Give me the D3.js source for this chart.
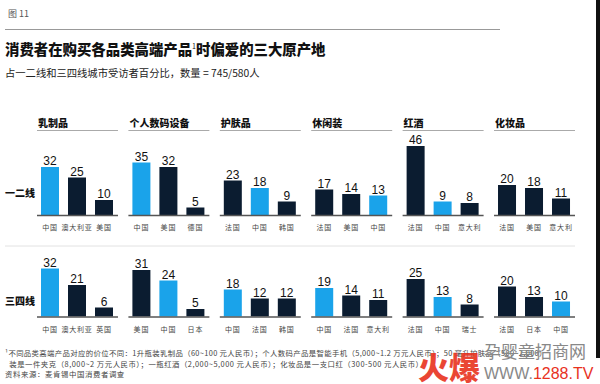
<!DOCTYPE html>
<html>
<head>
  <meta charset="utf-8">
  <title>图 11</title>
  <script src="https://d3js.org/d3.v7.min.js"></script>
  <style>
    body { margin: 0; background: #fff; }
    text { font-family: "Noto Sans CJK SC", sans-serif; }
  </style>
</head>
<body>
  <script>
    var width = 600;
    var height = 384;

    // 数据
    var categories = ["乳制品", "个人数码设备", "护肤品", "休闲装", "红酒", "化妆品"];
    var tierLabels = ["一二线", "三四线"];
    var tier1Countries = [["中国", "澳大利亚", "美国"], ["中国", "美国", "德国"], ["法国", "中国", "韩国"],
                          ["法国", "美国", "中国"], ["法国", "中国", "意大利"], ["法国", "美国", "意大利"]];
    var tier1Values = [[32, 25, 10], [35, 32, 5], [23, 18, 9], [17, 14, 13], [46, 9, 8], [20, 18, 11]];
    var tier2Countries = [["中国", "澳大利亚", "英国"], ["美国", "中国", "日本"], ["中国", "法国", "韩国"],
                          ["中国", "法国", "意大利"], ["法国", "中国", "瑞士"], ["法国", "日本", "中国"]];
    var tier2Values = [[32, 21, 6], [31, 24, 5], [18, 12, 12], [19, 14, 11], [25, 13, 8], [20, 13, 10]];
    var footnotes = [
      "¹不同品类高端产品对应的价位不同：1升瓶装乳制品（60~100 元人民币）；个人数码产品是智能手机（5,000~1.2 万元人民币）；50 毫升护肤品（500~2,000）",
      "  装是一件夹克（8,000~2 万元人民币）；一瓶红酒（2,000~5,000 元人民币）；化妆品是一支口红（300-500 元人民币）",
      "资料来源：麦肯锡中国消费者调查"
    ];

    var blue = "#1aa3ea";
    var navy = "#0b1c30";

    var svg = d3.select("body").append("svg").attr("width", width).attr("height", height);

    svg.append("text").attr("x", 8).attr("y", 17).attr("font-size", 9).attr("fill", "#555").text("图 11");
    svg.append("line").attr("x1", 5).attr("x2", 500).attr("y1", 29.5).attr("y2", 29.5)
      .attr("stroke", "#999").attr("stroke-width", 1);
    var title = svg.append("text").attr("x", 5).attr("y", 55).attr("font-size", 14.4).attr("font-weight", 900)
      .attr("fill", "#111");
    title.append("tspan").text("消费者在购买各品类高端产品");
    title.append("tspan").attr("font-size", 7).attr("dy", -6).attr("font-weight", 400).text("1");
    title.append("tspan").attr("dy", 6).text("时偏爱的三大原产地");
    svg.append("text").attr("x", 5).attr("y", 77).attr("font-size", 10.3).attr("fill", "#222")
      .text("占一二线和三四线城市受访者百分比，数量 = 745/580人");

    // 面板位置
    var panelX = d3.scaleBand().domain(categories).range([37, 575]).paddingInner(0.114);
    var y = d3.scaleLinear().domain([0, 50]).range([0, 75]);
    var rows = [
      { label: tierLabels[0], base: 215, countries: tier1Countries, values: tier1Values, labelY: 197 },
      { label: tierLabels[1], base: 316.5, countries: tier2Countries, values: tier2Values, labelY: 305 }
    ];

    // 标题
    categories.forEach(function (c) {
      var px = panelX(c);
      svg.append("text").attr("x", px + 1).attr("y", 127).attr("font-size", 10).attr("font-weight", 900)
        .attr("fill", "#111").text(c);
      svg.append("line").attr("x1", px).attr("x2", px + panelX.bandwidth()).attr("y1", 130.5).attr("y2", 130.5)
        .attr("stroke", "#aaa").attr("stroke-width", 1);
    });

    svg.append("line").attr("x1", 5).attr("x2", 575).attr("y1", 246).attr("y2", 246)
      .attr("stroke", "#e2e2e2").attr("stroke-width", 1);

    rows.forEach(function (row) {
      svg.append("text").attr("x", 5).attr("y", row.labelY).attr("font-size", 10).attr("font-weight", 900)
        .attr("fill", "#111").text(row.label);

      categories.forEach(function (c, i) {
        var px = panelX(c);
        var g = svg.append("g").attr("transform", "translate(" + px + "," + row.base + ")");
        var data = row.countries[i].map(function (k, j) { return { country: k, value: row.values[i][j] }; });
        var x = d3.scaleBand().domain([0, 1, 2]).range([4, 76]).paddingInner(1 / 3).paddingOuter(0);

        g.selectAll("rect").data(data).enter().append("rect")
          .attr("x", function (d, j) { return x(j); })
          .attr("y", function (d) { return -y(d.value); })
          .attr("width", x.bandwidth())
          .attr("height", function (d) { return y(d.value); })
          .attr("fill", function (d) { return d.country === "中国" ? blue : navy; });

        g.selectAll(".val").data(data).enter().append("text").attr("class", "val")
          .attr("x", function (d, j) { return x(j) + x.bandwidth() / 2; })
          .attr("y", function (d) { return -y(d.value) - 2; })
          .attr("text-anchor", "middle").attr("font-size", 12)
          .style("font-family", "'Liberation Sans', Arial, sans-serif")
          .attr("fill", "#111").text(function (d) { return d.value; });

        g.selectAll(".cat").data(data).enter().append("text").attr("class", "cat")
          .attr("x", function (d, j) { return x(j) + x.bandwidth() / 2; })
          .attr("y", 15)
          .attr("text-anchor", "middle").attr("font-size", 7).attr("letter-spacing", 0.8)
          .attr("fill", "#444").text(function (d) { return d.country; });

        g.append("line").attr("x1", 0).attr("x2", panelX.bandwidth()).attr("y1", 0.5).attr("y2", 0.5)
          .attr("stroke", "#555").attr("stroke-width", 1.5);
      });
    });

    // 脚注
    footnotes.forEach(function (t, i) {
      svg.append("text").attr("x", 5).attr("y", [356, 367, 377][i]).attr("font-size", 7.4)
        .attr("letter-spacing", [0.35, 0.5, 0.6][i])
        .attr("fill", "#444").style("white-space", "pre").text(t);
    });

    // 水印
    svg.append("text").attr("x", 418).attr("y", 379).attr("font-size", 31).attr("font-weight", 900)
      .attr("fill", "#e8321e").attr("opacity", 0.9).text("火爆");
    svg.append("text").attr("x", 484).attr("y", 358).attr("font-size", 17)
      .attr("fill", "#888").text("孕婴童招商网");
    svg.append("text").attr("x", 484).attr("y", 379).attr("font-size", 16)
      .style("font-family", "'Liberation Sans', Arial, sans-serif").attr("fill", "#888")
      .text("WWW.").append("tspan").attr("fill", "#e8321e").text("1288.TV");

    svg.append("rect").attr("x", 596).attr("y", 0).attr("width", 4).attr("height", 358).attr("fill", "#111");
  </script>
</body>
</html>
